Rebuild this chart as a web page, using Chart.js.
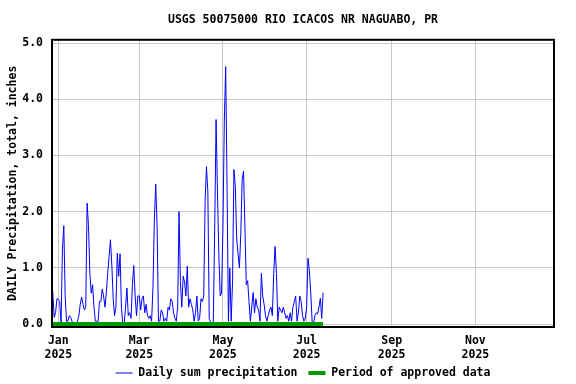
<!DOCTYPE html>
<html>
<head>
<meta charset="utf-8">
<script src="https://cdn.jsdelivr.net/npm/chart.js@4"></script>
<style>
  html, body { margin: 0; padding: 0; background: #fff; }
  canvas { display: block; }
</style>
</head>
<body>
<canvas id="myChart" width="576" height="384"></canvas>
<script>
// day numbers are counted from Jan 1 2025 (= 0)
const firstDay = -5;
const precipitation = [
  0.8, 0.55, 0.12, 0.2, 0.45, 0.44, 0.4, 0.03, 1.32, 1.75,
  0.5, 0.05, 0.05, 0.15, 0.12, 0.05, 0, 0, 0, 0.05,
  0.15, 0.35, 0.48, 0.35, 0.25, 0.3, 2.15, 1.75, 0.9, 0.55,
  0.7, 0.3, 0.05, 0.05, 0.05, 0.4, 0.4, 0.62, 0.5, 0.3,
  0.55, 0.9, 1.2, 1.5, 1.05, 0.45, 0.15, 0.3, 1.26, 0.85,
  1.25, 0.3, 0, 0, 0.3, 0.64, 0.15, 0.2, 0.1, 0.7,
  1.04, 0.5, 0.15, 0.5, 0.5, 0.25, 0.45, 0.5, 0.2, 0.35,
  0.15, 0.1, 0.15, 0.05, 0.65, 1.86, 2.49, 1.76, 0.05, 0.05,
  0.25, 0.2, 0.05, 0.1, 0.05, 0.3, 0.25, 0.45, 0.4, 0.2,
  0.1, 0.05, 0.3, 2.0, 0.75, 0.3, 0.85, 0.75, 0.5, 1.03,
  0.3, 0.45, 0.35, 0.25, 0.05, 0.2, 0.5, 0.05, 0.1, 0.45,
  0.4, 0.5, 2.2, 2.8, 2.35, 0.1, 0.03, 0, 0.05, 1.72,
  3.64, 2.35, 1.25, 0.5, 0.55, 1.72, 3.63, 4.58, 2.45, 0.05,
  1.0, 0.05, 0.75, 2.75, 2.46, 1.52, 1.25, 1.0, 1.6, 2.57,
  2.72, 1.75, 0.7, 0.77, 0.4, 0.05, 0.3, 0.56, 0.2, 0.45,
  0.3, 0.25, 0.05, 0.9, 0.5, 0.35, 0.15, 0.05, 0.15, 0.25,
  0.3, 0.15, 0.9, 1.38, 0.9, 0.05, 0.3, 0.25, 0.2, 0.3,
  0.2, 0.1, 0.15, 0.05, 0.2, 0.05, 0.3, 0.4, 0.5, 0.05,
  0.2, 0.5, 0.4, 0.15, 0.05, 0.1, 0.3, 1.17, 0.95, 0.55,
  0.05, 0, 0.15, 0.2, 0.18, 0.3, 0.46, 0.1, 0.56
];
const approvedStart = -5;
const approvedEnd = 193;

const monthTicks = [0, 59, 120, 181, 243, 304];
const monthLabels = [
  ["Jan", "2025"], ["Mar", "2025"], ["May", "2025"],
  ["Jul", "2025"], ["Sep", "2025"], ["Nov", "2025"]
];
const yTicks = [0, 1, 2, 3, 4, 5];

const mono = "'DejaVu Sans Mono', monospace";
Chart.defaults.font.family = mono;
Chart.defaults.font.weight = "bold";
Chart.defaults.font.size = 11.5;
Chart.defaults.color = "#000";

const precipPoints = precipitation.map((v, i) => ({ x: firstDay + i, y: v }));

// black box round the plot
const frame = {
  id: "frame",
  afterDraw(chart) {
    const a = chart.chartArea;
    const ctx = chart.ctx;
    ctx.save();
    ctx.strokeStyle = "#000";
    ctx.lineWidth = 2;
    ctx.strokeRect(a.left, a.top, a.right - a.left, a.bottom - a.top);
    ctx.restore();
  },
};

new Chart(document.getElementById("myChart"), {
  type: "line",
  data: {
    datasets: [
      {
        label: "Daily sum precipitation",
        data: precipPoints,
        borderColor: "#0000ff",
        borderWidth: 1,
        pointRadius: 0,
        tension: 0,
        order: 1,
      },
      {
        label: "Period of approved data",
        data: [{ x: approvedStart, y: 0 }, { x: approvedEnd, y: 0 }],
        borderColor: "#009900",
        borderWidth: 4,
        pointRadius: 0,
        order: 0,
      },
    ],
  },
  options: {
    responsive: false,
    animation: false,
    devicePixelRatio: 1,
    layout: { padding: { left: 0, right: 22, top: 0, bottom: -4.75 } },
    plugins: {
      title: {
        display: true,
        text: "USGS 50075000 RIO ICACOS NR NAGUABO, PR",
        fullSize: false,
        font: { size: 11.5, weight: "bold", lineHeight: 1.2 },
        padding: { top: 13, bottom: 13 },
        color: "#000",
      },
      legend: {
        position: "bottom",
        fullSize: false,
        labels: {
          usePointStyle: true,
          pointStyleWidth: 17,
          padding: 4,
          font: { size: 11.5, weight: "bold" },
          // the trailing space keeps the gap between the two entries
          generateLabels: (chart) =>
            chart.data.datasets.map((ds, i) => ({
              text: i === 0 ? ds.label + " " : ds.label,
              strokeStyle: ds.borderColor,
              fillStyle: ds.borderColor,
              lineWidth: ds.borderWidth,
              pointStyle: "line",
              datasetIndex: i,
            })),
        },
      },
      tooltip: { enabled: false },
    },
    scales: {
      x: {
        type: "linear",
        min: -4.6,
        max: 361.3,
        afterBuildTicks: (scale) => {
          scale.ticks = monthTicks.map((v) => ({ value: v }));
        },
        afterFit: (scale) => {
          scale.height = 36.25;
        },
        ticks: {
          autoSkip: false,
          maxRotation: 0,
          padding: 7,
          font: { size: 11.5, weight: "bold", lineHeight: 1.22 },
          callback: (value, index) => monthLabels[index],
        },
        grid: { color: "#c8c8c8", lineWidth: 1, drawTicks: false },
        border: { display: false },
      },
      y: {
        min: -0.053,
        max: 5.059,
        afterBuildTicks: (scale) => {
          scale.ticks = yTicks.map((v) => ({ value: v }));
        },
        afterFit: (scale) => {
          scale.width = 52;
        },
        ticks: {
          padding: 9,
          callback: (value) => value.toFixed(1),
        },
        grid: { color: "#c8c8c8", lineWidth: 1, drawTicks: false },
        border: { display: false },
        title: {
          display: true,
          text: "DAILY Precipitation, total, inches",
          padding: { top: 6, bottom: 0 },
          font: { size: 11.5, weight: "bold" },
        },
      },
    },
  },
  plugins: [frame],
});
</script>
</body>
</html>
